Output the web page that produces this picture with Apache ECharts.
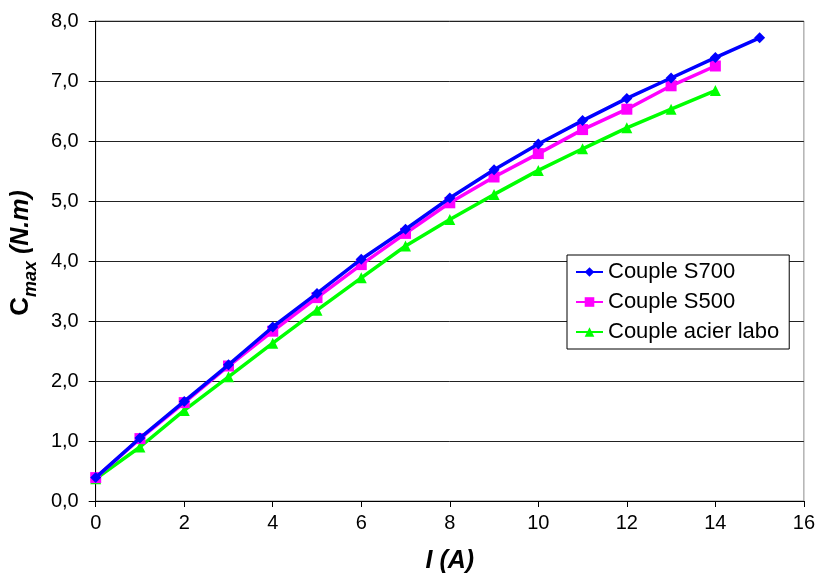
<!DOCTYPE html>
<html>
<head>
<meta charset="utf-8">
<script src="https://cdn.jsdelivr.net/npm/echarts@6/dist/echarts.min.js"></script>
<style>html,body{margin:0;padding:0;background:#fff;}#c{width:818px;height:579px;}</style>
</head>
<body>
<div id="c"></div>
<script>
const xValues = [0,1,2,3,4,5,6,7,8,9,10,11,12,13,14,15];
const s700 = [0.39,1.05,1.66,2.27,2.90,3.46,4.03,4.53,5.05,5.52,5.95,6.34,6.71,7.05,7.39,7.72];
const s500 = [0.39,1.04,1.64,2.25,2.83,3.39,3.94,4.46,4.97,5.40,5.79,6.19,6.53,6.92,7.25];
const acier = [0.37,0.90,1.51,2.07,2.63,3.18,3.72,4.25,4.69,5.11,5.51,5.87,6.22,6.53,6.84];
const seriesNames = ['Couple S700','Couple S500','Couple acier labo'];

const pair = arr => arr.map((v,i)=>[xValues[i], v]);
const font = '"Liberation Sans", Arial, sans-serif';
const chart = echarts.init(document.getElementById('c'));
chart.setOption({
  animation:false,
  textStyle:{fontFamily:font},
  grid:{left:95,right:13,top:21,bottom:77,show:true,borderColor:'#8c8c8c',borderWidth:1},
  legend:{
    orient:'vertical', left:567, top:255,
    backgroundColor:'#fff', borderColor:'#000', borderWidth:1,
    padding:[6,10,6,8], itemGap:8, itemWidth:27, itemHeight:12,
    textStyle:{fontSize:22,color:'#000',fontFamily:font},
    data:seriesNames
  },
  xAxis:{
    type:'value', min:0, max:16, interval:2,
    name:'I (A)', nameLocation:'middle', nameGap:48,
    nameTextStyle:{fontSize:25,fontWeight:'bold',fontStyle:'italic',color:'#000',fontFamily:font},
    axisLine:{lineStyle:{color:'#000',width:1}},
    axisTick:{show:true,length:6,lineStyle:{color:'#000'}},
    axisLabel:{fontSize:20,color:'#000',margin:12},
    splitLine:{show:false}
  },
  yAxis:{
    type:'value', min:0, max:8, interval:1,
    name:'{c|C}{s|max}{n| (N.m)}', nameLocation:'middle', nameGap:54, nameRotate:90,
    nameTextStyle:{
      color:'#000',
      padding:[0,0,0,16],
      rich:{
        c:{fontSize:26,fontWeight:'bold',color:'#000',fontFamily:font,lineHeight:30,verticalAlign:'bottom'},
        s:{fontSize:18,fontWeight:'bold',fontStyle:'italic',color:'#000',fontFamily:font,lineHeight:30,verticalAlign:'bottom',padding:[0,0,-6,0]},
        n:{fontSize:25,fontWeight:'bold',fontStyle:'italic',color:'#000',fontFamily:font,lineHeight:30,verticalAlign:'bottom'}
      }
    },
    axisLine:{show:true,lineStyle:{color:'#000',width:1}},
    axisTick:{show:true,length:7,lineStyle:{color:'#000'}},
    axisLabel:{fontSize:20,color:'#000',margin:17,formatter:v=>v.toFixed(1).replace('.',',')},
    splitLine:{show:true,lineStyle:{color:'#222',width:1}}
  },
  series:[
    {name:seriesNames[0],type:'line',data:pair(s700),symbol:'diamond',symbolSize:11,
     lineStyle:{color:'#0000ff',width:3.5},itemStyle:{color:'#0000ff'},z:4},
    {name:seriesNames[1],type:'line',data:pair(s500),symbol:'rect',symbolSize:11,
     lineStyle:{color:'#ff00ff',width:3.5},itemStyle:{color:'#ff00ff'},z:3},
    {name:seriesNames[2],type:'line',data:pair(acier),symbol:'triangle',symbolSize:11,
     lineStyle:{color:'#00ff00',width:3.5},itemStyle:{color:'#00ff00'},z:2}
  ]
});
</script>
</body>
</html>
